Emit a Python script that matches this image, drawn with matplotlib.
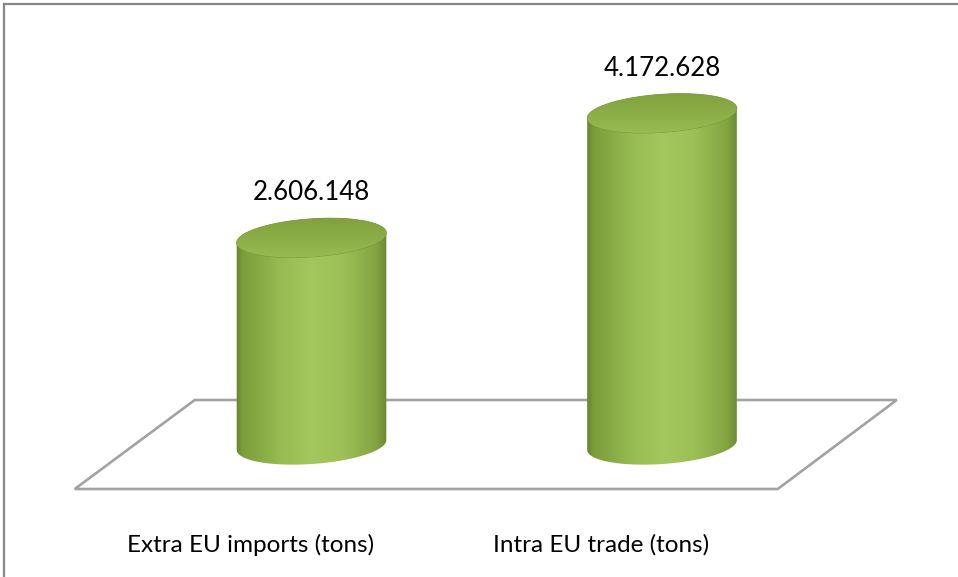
import numpy as np
import matplotlib
matplotlib.use("Agg")
import matplotlib.pyplot as plt
from matplotlib.patches import PathPatch, Polygon
from matplotlib.path import Path
from matplotlib.colors import LinearSegmentedColormap
from matplotlib.lines import Line2D

# ---- data ----
categories = ["Extra EU imports (tons)", "Intra EU trade (tons)"]
values = [2606148, 4172628]
value_labels = ["2.606.148", "4.172.628"]

# ---- canvas / layout (pixels) ----
W, H = 958, 577
first_center_px = 311.5      # horizontal centre of the first cylinder
cat_step_px = 350.5          # distance between category centres
base_px = 445                # vertical position of the value-0 plane
tons_per_px = 12580          # vertical value scale

fig = plt.figure(figsize=(W / 100, H / 100), dpi=100)
ax = fig.add_axes([0, 0, 1, 1])
ax.set_xlim(-first_center_px / cat_step_px, (W - first_center_px) / cat_step_px)
ax.set_ylim(-(H - base_px) * tons_per_px, base_px * tons_per_px)
ax.axis("off")


def dx(px):
    return px / cat_step_px


def dy(px):
    return px * tons_per_px


# outer chart frame (left and top edges visible)
frame_col = "#878787"
fig.add_artist(Line2D([4 / W, 4 / W], [0, 1 - 4 / H], transform=fig.transFigure,
                      color=frame_col, lw=1.6))
fig.add_artist(Line2D([4 / W, 1], [1 - 4 / H, 1 - 4 / H], transform=fig.transFigure,
                      color=frame_col, lw=1.6))

# floor of the 3-D plot area
n = len(categories)
mid = (n - 1) / 2
floor_back = dy(45)
floor_front = dy(-44)
floor = Polygon([[mid + dx(-292), floor_back], [mid + dx(410), floor_back],
                 [mid + dx(291), floor_front], [mid + dx(-412), floor_front]],
                closed=True, facecolor="none", edgecolor="#a2a2a2", lw=1.9, zorder=1)
ax.add_patch(floor)

body_cmap = LinearSegmentedColormap.from_list(
    "body", [(0.0, "#5f7b2c"), (0.06, "#7b9c3a"), (0.3, "#97bb52"),
             (0.5, "#a4c75d"), (0.7, "#9dc157"), (0.92, "#83a341"), (1.0, "#66832f")])
top_cmap = LinearSegmentedColormap.from_list(
    "top", [(0.0, "#7d9d3b"), (0.5, "#8cae47"), (1.0, "#9bbe54")])

half_w_px = 75
half_h_px = 19
tilt = np.deg2rad(4)


def ellipse_pts(cx, cy, t):
    ex = half_w_px * np.cos(t)
    ey = half_h_px * np.sin(t)
    rx = ex * np.cos(tilt) - ey * np.sin(tilt)
    ry = ex * np.sin(tilt) + ey * np.cos(tilt)
    return cx + dx(rx), cy + dy(ry)


grad = np.linspace(0, 1, 256).reshape(1, -1)
vgrad = np.linspace(0, 1, 256).reshape(-1, 1)

for i, (v, lab) in enumerate(zip(values, value_labels)):
    x = i
    # body outline: front half of bottom ellipse + sides + back half of top ellipse
    t_low = np.linspace(np.pi, 2 * np.pi, 80)
    bx, by = ellipse_pts(x, 0, t_low)
    t_top = np.linspace(0, np.pi, 80)
    tx, ty = ellipse_pts(x, v, t_top)
    px = np.concatenate([bx, tx])
    py = np.concatenate([by, ty])
    verts = np.column_stack([px, py])
    body = PathPatch(Path(np.vstack([verts, verts[:1]]), closed=True),
                     facecolor="none", edgecolor="none", zorder=2)
    ax.add_patch(body)
    im = ax.imshow(grad, cmap=body_cmap, aspect="auto", interpolation="bicubic",
                   extent=[x - dx(half_w_px + 3), x + dx(half_w_px + 3),
                           dy(-30), v + dy(30)], zorder=2)
    im.set_clip_path(body)

    # top face
    tt = np.linspace(0, 2 * np.pi, 160)
    ex, ey = ellipse_pts(x, v, tt)
    top = PathPatch(Path(np.column_stack([ex, ey]), closed=True),
                    facecolor="none", edgecolor="#73933a", lw=0.6, zorder=3)
    ax.add_patch(top)
    imt = ax.imshow(vgrad, cmap=top_cmap, aspect="auto", interpolation="bicubic",
                    origin="upper",
                    extent=[x - dx(half_w_px + 3), x + dx(half_w_px + 3),
                            v - dy(half_h_px + 6), v + dy(half_h_px + 6)], zorder=3)
    imt.set_clip_path(top)

    # value label
    ax.text(x, v + dy(45), lab, ha="center", va="center", fontsize=18.6,
            family="Lato", color="#000000", zorder=5)

# category labels
for i, c in enumerate(categories):
    ax.text(i + dx(-61), dy(-100), c, ha="center", va="center", fontsize=17.5,
            family="Lato", color="#000000")

fig.savefig("out.png", dpi=100, facecolor="white")
